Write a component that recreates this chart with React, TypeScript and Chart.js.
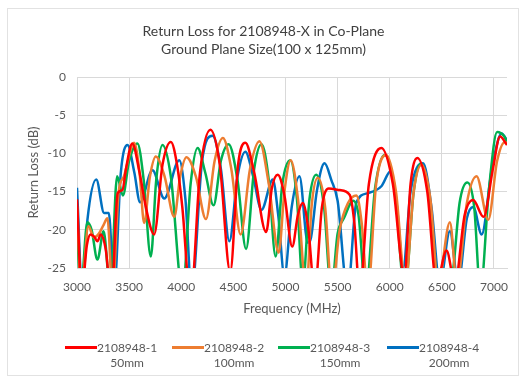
import React, { useEffect, useRef } from "react";
import { Chart, registerables } from "chart.js";

Chart.register(...registerables);

const titleLines = ["Return Loss for 2108948-X in Co-Plane", "Ground Plane Size(100 x 125mm)"];
const xTitle = "Frequency (MHz)";
const yTitle = "Return Loss (dB)";
const seriesNames = ["2108948-1", "2108948-2", "2108948-3", "2108948-4"];
const seriesSizes = ["50mm", "100mm", "150mm", "200mm"];
const seriesColors = ["#FF0000", "#ED7D31", "#00B050", "#0070C0"];
const xTickValues = [3000, 3500, 4000, 4500, 5000, 5500, 6000, 6500, 7000];
const yTickValues = [0, -5, -10, -15, -20, -25];

const freq1 = [3000,3045,3095,3130,3165,3196,3228,3276,3330,3390,3436,3470,3530,3600,3660,3740,3820,3900,3960,4010,4090,4180,4280,4370,4470,4545,4615,4700,4814,4870,4926,4990,5065,5120,5166,5220,5280,5350,5415,5520,5615,5660,5711,5800,5920,6030,6140,6200,6265,6360,6449,6545,6625,6720,6800,6900,6990,7058,7125];
const rl1 = [-16,-28,-22,-20.6,-20.9,-21.5,-20.6,-22.6,-29,-15.2,-14.8,-12,-8.7,-12.5,-17,-20.6,-11.5,-8.5,-11.5,-17,-29,-12.5,-6.9,-11.5,-25.5,-11.5,-8.6,-12.5,-20.3,-14.5,-12.8,-15.5,-22.2,-18,-16.5,-20,-28,-17,-14.6,-14.8,-15.4,-19,-28,-14,-9.3,-14,-26,-14,-10.6,-15,-27,-22.7,-27,-18,-16.1,-18.3,-12,-7.8,-8.9];

const freq2 = [3000,3040,3110,3160,3210,3250,3292,3340,3400,3450,3548,3600,3644,3700,3756,3840,3933,3990,4050,4140,4237,4320,4400,4480,4570,4660,4750,4840,4935,4990,5050,5120,5200,5250,5310,5380,5445,5520,5600,5680,5730,5790,5870,5965,6060,6150,6230,6305,6390,6465,6577,6645,6740,6833,6945,7030,7106,7125];
const rl2 = [-17,-28,-19.5,-21,-20.5,-19.5,-18.5,-28,-15,-13,-8.6,-12.5,-19.1,-13,-10.4,-13,-18.3,-13,-10.5,-13,-18.6,-11,-8,-12,-20.6,-12,-8.4,-14,-23,-15,-10.9,-16,-28,-17,-13.2,-17,-28,-20,-16.5,-15.5,-19,-28,-14,-10.2,-15,-27,-15,-11.5,-16,-27,-19,-27,-16.5,-13,-18.7,-11,-8.5,-8.7];

const freq3 = [3000,3035,3100,3140,3196,3255,3320,3385,3440,3500,3580,3640,3708,3760,3820,3900,4012,4090,4157,4230,4310,4380,4455,4540,4622,4700,4770,4840,4905,4970,5046,5110,5166,5230,5295,5370,5439,5500,5560,5650,5700,5770,5860,5952,6050,6144,6230,6300,6380,6465,6540,6610,6670,6745,6810,6870,6950,7030,7100,7125];
const rl3 = [-19.5,-28,-19,-20,-23.9,-20.2,-28,-13,-15.5,-11,-8.7,-13.5,-23.5,-13.5,-8.9,-13,-28,-14,-9.3,-12.5,-16.8,-11,-8.8,-13.5,-22.5,-12,-8.8,-13.5,-23.5,-14,-10.9,-16,-27,-16,-12.8,-17,-28,-20.5,-18.5,-16.2,-18,-28,-14.5,-10.2,-15,-28,-15,-11.3,-16,-28,-30,-25,-16.5,-13.8,-17,-28,-15,-7.2,-7.8,-8.5];

const freq4 = [3000,3050,3100,3185,3260,3305,3356,3420,3485,3550,3605,3724,3837,3981,4040,4100,4200,4300,4380,4462,4540,4615,4690,4770,4878,4930,4990,5060,5134,5214,5245,5300,5375,5440,5500,5596,5679,5791,5920,6010,6070,6128,6200,6320,6400,6481,6577,6657,6740,6801,6882,6980,7074,7125];
const rl4 = [-14.5,-28,-18.7,-13.4,-17.8,-17.8,-28,-12.6,-8.9,-12.5,-16.4,-12.2,-15.9,-10.9,-16,-28,-11,-7.7,-12,-21.5,-13,-9.8,-13,-17.4,-13.4,-18,-26,-17,-13,-21.7,-21,-15,-11.3,-13.5,-16.2,-28,-16.5,-15.2,-14.3,-12.3,-17,-25,-15,-11.3,-17,-27,-20.2,-27,-18.5,-17,-20.6,-12,-7.4,-8.3];

const allFreqs = [freq1, freq2, freq3, freq4];
const allValues = [rl1, rl2, rl3, rl4];

const xMin = 3000;
const xMax = 7125;
const yMin = -25;
const yMax = 0;

const FONT = "Lato, 'Liberation Sans', sans-serif";

export default function App() {
  const ref = useRef<HTMLCanvasElement>(null);

  useEffect(() => {
    const canvas = ref.current;
    if (!canvas) return;
    const chart = new Chart(canvas, {
      type: "line",
      data: {
        datasets: seriesNames.map((name, i) => ({
          label: name + " " + seriesSizes[i],
          data: allFreqs[i].map((f, j) => ({ x: f, y: allValues[i][j] })),
          borderColor: seriesColors[i],
          backgroundColor: seriesColors[i],
          borderWidth: 2.5,
          pointRadius: 0,
          cubicInterpolationMode: "monotone" as const,
          fill: false,
        })),
      },
      options: {
        responsive: false,
        animation: false,
        events: [],
        layout: { padding: { left: 20, right: 20, top: 0, bottom: 51 } },
        plugins: {
          legend: { display: false },
          tooltip: { enabled: false },
          title: {
            display: true,
            text: titleLines,
            color: "#404040",
            font: { family: FONT, size: 14, weight: "normal", lineHeight: 1.3 },
            padding: { top: 22, bottom: 18.6 },
          },
        },
        scales: {
          x: {
            type: "linear",
            min: xMin,
            max: xMax,
            afterBuildTicks: (s: any) => {
              s.ticks = xTickValues.map((v) => ({ value: v }));
            },
            afterFit: (s: any) => {
              s.height = 60;
            },
            ticks: {
              autoSkip: false,
              padding: 12,
              maxRotation: 0,
              minRotation: 0,
              color: "#595959",
              font: { family: FONT, size: 12 },
              callback: (v: any) => String(v),
            },
            grid: {
              drawTicks: false,
              color: (ctx: any) => {
                const v = ctx.tick ? ctx.tick.value : 0;
                return v === 4000 || v === 4500 ? "rgba(0,0,0,0)" : "#d9d9d9";
              },
            },
            border: { color: "#d9d9d9" },
            title: {
              display: true,
              text: xTitle,
              color: "#595959",
              font: { family: FONT, size: 13 },
              padding: { top: 0, bottom: 11 },
            },
          },
          y: {
            type: "linear",
            min: yMin,
            max: yMax,
            afterBuildTicks: (s: any) => {
              s.ticks = yTickValues.map((v) => ({ value: v }));
            },
            afterFit: (s: any) => {
              s.width = 57;
            },
            ticks: {
              padding: 11,
              color: "#595959",
              font: { family: FONT, size: 12 },
            },
            grid: { drawTicks: false, color: "#d9d9d9" },
            border: { color: "#d9d9d9" },
            title: {
              display: true,
              text: yTitle,
              color: "#595959",
              font: { family: FONT, size: 13 },
              padding: { top: 6, bottom: 0 },
            },
          },
        },
      },
    });
    return () => chart.destroy();
  }, []);

  const legendLeft = [65, 172, 278, 387];

  return (
    <div
      style={{
        position: "absolute",
        left: 0,
        top: 0,
        width: 527,
        height: 379,
        background: "#ffffff",
        overflow: "hidden",
      }}
    >
      <div
        style={{
          position: "absolute",
          left: 7,
          top: 8,
          width: 512,
          height: 368,
          border: "1px solid #e2e2e2",
          boxSizing: "border-box",
        }}
      />
      <canvas
        ref={ref}
        width={527}
        height={379}
        style={{ position: "absolute", left: 0, top: 0, width: 527, height: 379 }}
      />
      {seriesNames.map((name, i) => (
        <div
          key={name}
          style={{
            position: "absolute",
            left: legendLeft[i],
            top: 340,
            display: "flex",
            alignItems: "flex-start",
            fontFamily: FONT,
            fontSize: 12,
            color: "#595959",
            lineHeight: "15px",
          }}
        >
          <div
            style={{
              width: 32,
              height: 3,
              marginTop: 6,
              background: seriesColors[i],
            }}
          />
          <div style={{ textAlign: "center", whiteSpace: "nowrap" }}>
            <div>{name}</div>
            <div>{seriesSizes[i]}</div>
          </div>
        </div>
      ))}
    </div>
  );
}
